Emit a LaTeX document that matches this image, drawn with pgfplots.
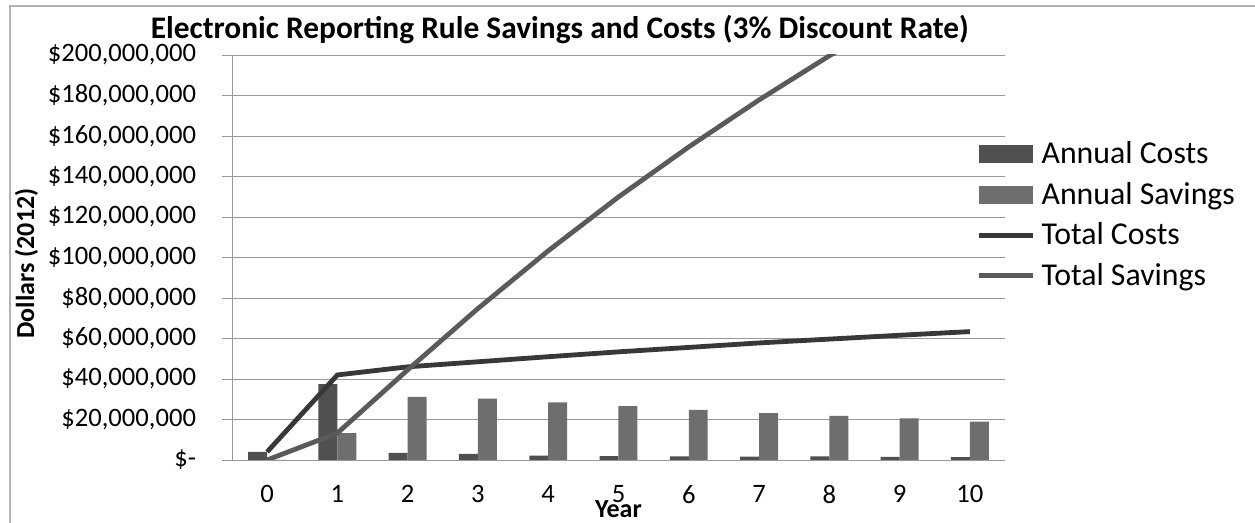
\documentclass[border=0pt]{standalone}
\usepackage{fontspec}
\setmainfont{Carlito}
\usepackage{pgfplots}
\pgfplotsset{compat=1.18}

\definecolor{costbar}{HTML}{505050}
\definecolor{savebar}{HTML}{6E6E6E}
\definecolor{costline}{HTML}{383838}
\definecolor{saveline}{HTML}{5A5A5A}

\begin{document}
\begin{tikzpicture}
\useasboundingbox (0,0) rectangle (627.5pt,261.5pt);
\draw[gray!60, line width=1pt] (5pt,0) -- (5pt,258.5pt) -- (627.5pt,258.5pt);
\begin{axis}[
    at={(116pt,31.5pt)}, anchor=south west,
    scale only axis,
    width=386.5pt, height=202.5pt,
    xmin=-0.5, xmax=10.5,
    ymin=0, ymax=200000000,
    xtick={0,...,10},
    ytick={0,20000000,...,200000000},
    scaled y ticks=false,
    yticklabels={{\$-\hspace{7.5pt}},{\$20,000,000},{\$40,000,000},{\$60,000,000},{\$80,000,000},{\$100,000,000},{\$120,000,000},{\$140,000,000},{\$160,000,000},{\$180,000,000},{\$200,000,000}},
    /pgf/number format/assume math mode=true,
    ticklabel style={font=\fontsize{13.3}{15}\selectfont},
    xtick style={draw=none},
    ytick style={draw=gray!80, thin},
    tick align=outside,
    major tick length=5pt,
    xticklabel style={yshift=-4pt},
    yticklabel style={xshift=-9.5pt},
    ymajorgrids,
    grid style={gray!80, thin},
    axis line style={gray!80, thin},
    axis x line*=bottom,
    axis y line*=left,
    title={\bfseries Electronic Reporting Rule Savings and Costs (3\% Discount Rate)},
    title style={font=\fontsize{15.7}{17}\selectfont, at={(0.424,1)}, anchor=south, yshift=-4pt},
    xlabel={\bfseries Year},
    xlabel style={font=\fontsize{13}{15}\selectfont, yshift=8.5pt},
    ylabel={\bfseries Dollars (2012)},
    ylabel style={font=\fontsize{13}{15}\selectfont, yshift=-2pt, xshift=-3pt},
    legend style={
        at={(0.963,0.797)}, anchor=north west,
        draw=none, fill=none,
        font=\fontsize{15.9}{17}\selectfont,
        row sep=3.7pt,
        inner sep=0pt,
        /tikz/every odd column/.append style={column sep=1pt},
    },
    legend cell align=left,
]
\addplot[ybar, bar width=0.27, bar shift=-0.135, fill=costbar, draw=none,
    legend image code/.code={\fill[costbar] (0pt,-4.5pt) rectangle (27pt,4.5pt);}]
    coordinates {(0,4000000) (1,37500000) (2,3500000) (3,3000000) (4,2100000)
                 (5,1900000) (6,1800000) (7,1700000) (8,1800000) (9,1500000) (10,1400000)};
\addplot[ybar, bar width=0.27, bar shift=0.135, fill=savebar, draw=none,
    legend image code/.code={\fill[savebar] (0pt,-4.5pt) rectangle (27pt,4.5pt);}]
    coordinates {(0,0) (1,13300000) (2,31200000) (3,30300000) (4,28500000)
                 (5,26600000) (6,24700000) (7,23200000) (8,21800000) (9,20600000) (10,19000000)};
\addplot[costline, line width=2.4pt, sharp plot, mark=none,
    legend image code/.code={\draw[costline, line width=2.4pt] (0pt,0pt) -- (27pt,0pt);}]
    coordinates {(0,4000000) (1,42000000) (2,46000000) (3,48500000) (4,51000000)
                 (5,53400000) (6,55600000) (7,57800000) (8,59700000) (9,61600000) (10,63400000)};
\addplot[saveline, line width=2.4pt, sharp plot, mark=none,
    legend image code/.code={\draw[saveline, line width=2.4pt] (0pt,0pt) -- (27pt,0pt);}]
    coordinates {(0,0) (1,13300000) (2,44500000) (3,74800000) (4,103300000)
                 (5,129900000) (6,154600000) (7,177800000) (8,199600000) (9,220200000) (10,239200000)};
\legend{Annual Costs, Annual Savings, Total Costs, Total Savings}
\end{axis}
\end{tikzpicture}
\end{document}
